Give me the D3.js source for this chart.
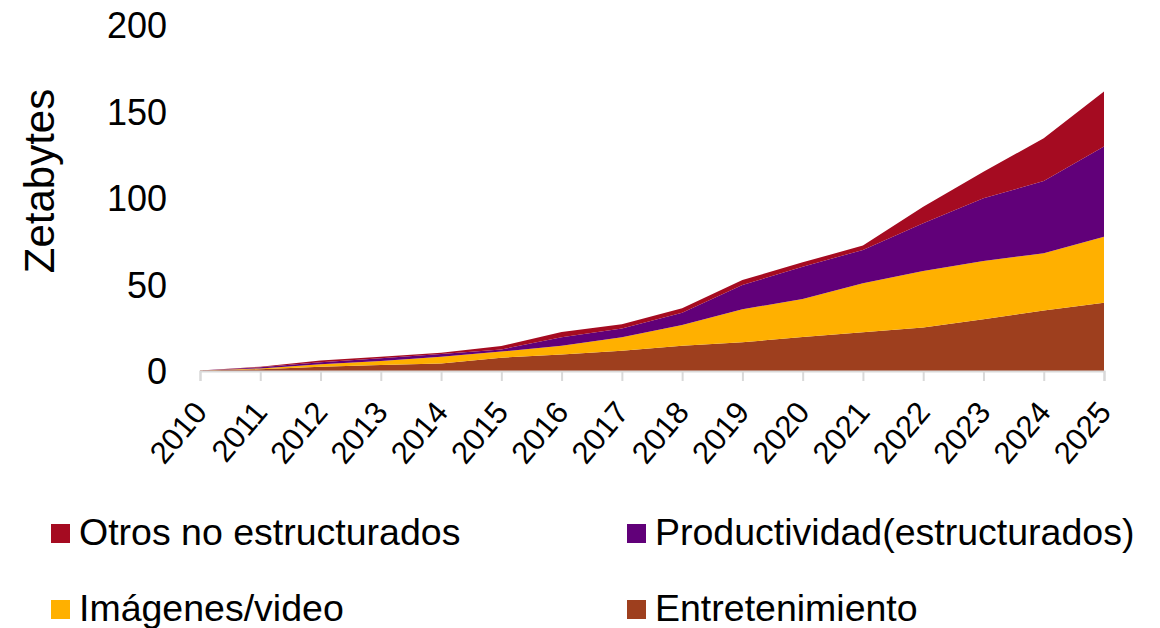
<!DOCTYPE html>
<html>
<head>
<meta charset="utf-8">
<script src="https://cdn.jsdelivr.net/npm/d3@7"></script>
<style>
	body { margin: 0; background: #fff; }
	svg text { font-family: "Liberation Sans", Arial, sans-serif; fill: #000; }
	.axis-x .domain, .axis-x line { stroke: #d9d9d9; stroke-width: 2px; }
	.axis-y .domain, .axis-y line { display: none; }
</style>
</head>
<body>
<svg id="chart" width="1160" height="628"></svg>
<script>
(function(d3) {
	'use strict';

	var years = [2010, 2011, 2012, 2013, 2014, 2015, 2016, 2017, 2018, 2019, 2020, 2021, 2022, 2023, 2024, 2025];
	var entretenimiento = [0.3, 1, 2.5, 3.5, 4.4, 7.7, 9.6, 11.7, 14.6, 16.6, 19.6, 22.4, 25.2, 29.9, 34.9, 39.5];
	var imagenes = [0, 0.5, 1.4, 2.3, 3.9, 3.5, 5, 7.8, 12, 19.1, 22, 28.3, 32.6, 33.7, 33.1, 38.1];
	var productividad = [0, 0.6, 1.1, 1.5, 1.5, 1.3, 4.9, 5, 7.1, 14, 18.7, 19.3, 27.6, 36.2, 41.8, 52.1];
	var otros = [0, 0.4, 1, 1, 0.8, 2, 3, 2.5, 2.5, 2.9, 2.5, 2.5, 9.6, 15.4, 24.7, 31.8];
	var yTicks = [0, 50, 100, 150, 200];

	var series = [
		{ key: 'ent', name: 'Entretenimiento', color: '#9e3f1e', values: entretenimiento },
		{ key: 'img', name: 'Imágenes/video', color: '#ffb000', values: imagenes },
		{ key: 'prod', name: 'Productividad(estructurados)', color: '#610079', values: productividad },
		{ key: 'otr', name: 'Otros no estructurados', color: '#a50b21', values: otros }
	];

	var svg = d3.select('#chart');
	var x = d3.scaleLinear().domain([2010, 2025]).range([200, 1104]);
	var y = d3.scaleLinear().domain([0, 200]).range([371, 25]);

	/** stacked areas */
	var table = years.map(function(year, i) {
		var row = { year: year };
		series.forEach(function(s) { row[s.key] = s.values[i]; });
		return row;
	});
	var stacked = d3.stack().keys(series.map(function(s) { return s.key; }))(table);
	var area = d3.area()
		.x(function(d) { return x(d.data.year); })
		.y0(function(d) { return y(d[0]); })
		.y1(function(d) { return y(d[1]); });

	svg.append('g').selectAll('path').data(stacked).enter().append('path')
		.attr('d', area)
		.attr('fill', function(d, i) { return series[i].color; });

	/** axes */
	var xAxis = svg.append('g').attr('class', 'axis-x')
		.attr('transform', 'translate(0,' + y(0) + ')')
		.call(d3.axisBottom(x).tickValues(years).tickFormat(d3.format('d')).tickSizeOuter(0).tickSize(10));
	xAxis.selectAll('text')
		.attr('font-size', 31)
		.attr('text-anchor', 'end')
		.attr('dy', null)
		.attr('y', 0)
		.attr('transform', 'translate(8,42) rotate(-50)');

	var yAxis = svg.append('g').attr('class', 'axis-y')
		.attr('transform', 'translate(180,0)')
		.call(d3.axisLeft(y).tickValues(yTicks).tickSize(0));
	yAxis.selectAll('text').attr('font-size', 36).attr('x', -13).attr('dy', '0.36em');

	svg.append('text')
		.attr('transform', 'translate(54,181) rotate(-90)')
		.attr('text-anchor', 'middle')
		.attr('font-size', 42)
		.text('Zetabytes');

	/** legend */
	var legendOrder = [series[3], series[2], series[1], series[0]];
	var legend = svg.append('g').selectAll('g').data(legendOrder).enter().append('g')
		.attr('transform', function(d, i) {
			return 'translate(' + (i % 2 === 0 ? 51 : 627) + ',' + (i < 2 ? 524 : 600) + ')';
		});
	legend.append('rect').attr('width', 19).attr('height', 19)
		.attr('fill', function(d) { return d.color; });
	legend.append('text').attr('x', 28).attr('y', 21).attr('font-size', 37.5)
		.text(function(d) { return d.name; });
})(d3);
</script>
</body>
</html>
